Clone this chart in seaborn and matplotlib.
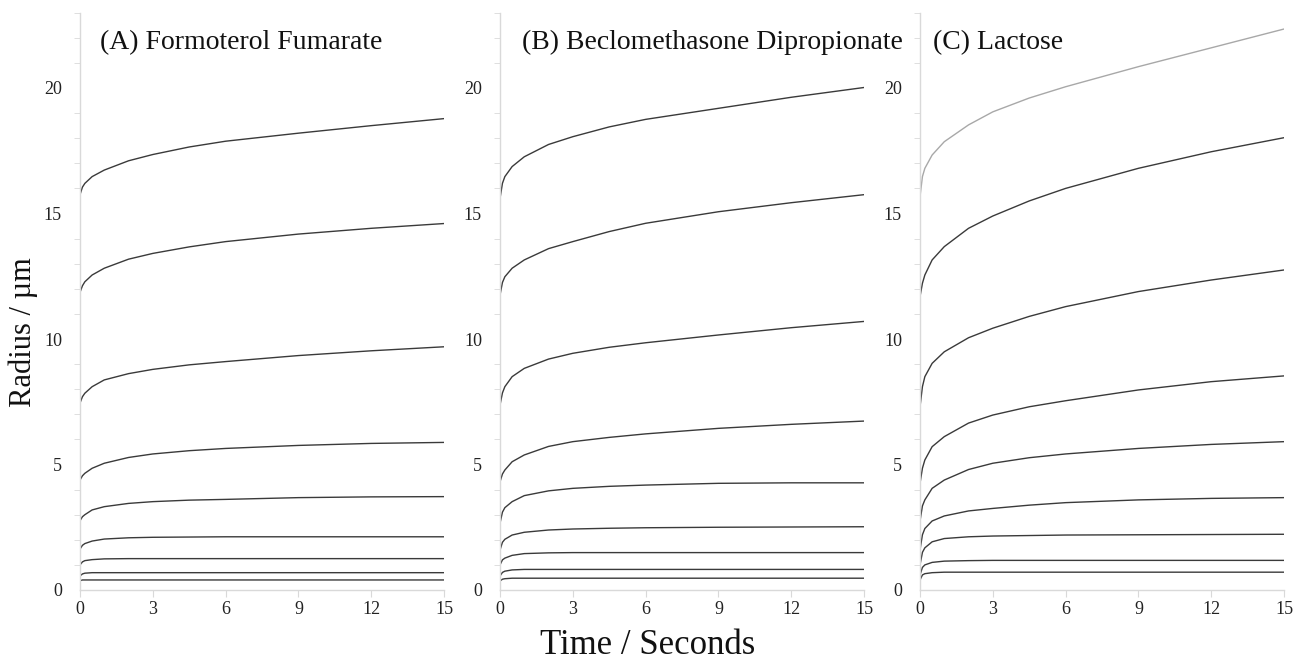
import numpy as np
import pandas as pd
import matplotlib
matplotlib.use("Agg")
import matplotlib.pyplot as plt
from matplotlib.ticker import MultipleLocator
import seaborn as sns

# ---- data -------------------------------------------------------------
time_s = [0, 0.1, 0.2, 0.5, 1, 2, 3, 4.5, 6, 9, 12, 15]

panel_titles = ["(A) Formoterol Fumarate",
                "(B) Beclomethasone Dipropionate",
                "(C) Lactose"]

formoterol = [
    [15.75, 16.05, 16.2, 16.47, 16.73, 17.1, 17.35, 17.65, 17.88, 18.2, 18.5, 18.78],
    [11.86, 12.12, 12.28, 12.55, 12.82, 13.18, 13.41, 13.67, 13.88, 14.18, 14.41, 14.6],
    [7.45, 7.7, 7.84, 8.1, 8.37, 8.62, 8.79, 8.97, 9.1, 9.34, 9.53, 9.69],
    [4.38, 4.55, 4.65, 4.85, 5.05, 5.28, 5.42, 5.55, 5.64, 5.76, 5.84, 5.88],
    [2.76, 2.92, 3.0, 3.19, 3.32, 3.45, 3.52, 3.58, 3.61, 3.68, 3.71, 3.72],
    [1.63, 1.78, 1.85, 1.95, 2.03, 2.08, 2.1, 2.11, 2.12, 2.12, 2.12, 2.12],
    [1.0, 1.12, 1.17, 1.21, 1.24, 1.25, 1.25, 1.25, 1.25, 1.25, 1.25, 1.25],
    [0.56, 0.64, 0.67, 0.69, 0.69, 0.69, 0.69, 0.69, 0.69, 0.69, 0.69, 0.69],
    [0.37, 0.40, 0.40, 0.40, 0.40, 0.40, 0.40, 0.40, 0.40, 0.40, 0.40, 0.40],
]

beclomethasone = [
    [15.6, 16.2, 16.47, 16.87, 17.26, 17.75, 18.06, 18.45, 18.75, 19.19, 19.63, 20.02],
    [11.75, 12.25, 12.48, 12.82, 13.15, 13.6, 13.88, 14.28, 14.61, 15.07, 15.43, 15.75],
    [7.37, 7.85, 8.1, 8.5, 8.83, 9.2, 9.43, 9.67, 9.85, 10.16, 10.45, 10.7],
    [4.31, 4.62, 4.78, 5.11, 5.38, 5.72, 5.91, 6.08, 6.22, 6.44, 6.6, 6.73],
    [2.66, 3.1, 3.28, 3.52, 3.76, 3.95, 4.05, 4.13, 4.18, 4.25, 4.27, 4.27],
    [1.59, 1.9, 2.02, 2.19, 2.3, 2.39, 2.43, 2.46, 2.48, 2.5, 2.51, 2.52],
    [1.0, 1.2, 1.27, 1.38, 1.45, 1.48, 1.49, 1.49, 1.49, 1.49, 1.49, 1.49],
    [0.56, 0.7, 0.75, 0.8, 0.82, 0.82, 0.82, 0.82, 0.82, 0.82, 0.82, 0.82],
    [0.36, 0.43, 0.45, 0.47, 0.47, 0.47, 0.47, 0.47, 0.47, 0.47, 0.47, 0.47],
]

lactose = [
    [15.67, 16.47, 16.8, 17.33, 17.86, 18.53, 19.05, 19.6, 20.05, 20.85, 21.6, 22.35],
    [11.69, 12.22, 12.55, 13.15, 13.68, 14.41, 14.9, 15.5, 16.0, 16.8, 17.46, 18.02],
    [7.3, 8.1, 8.5, 9.03, 9.49, 10.05, 10.43, 10.9, 11.29, 11.89, 12.35, 12.75],
    [4.25, 4.85, 5.18, 5.71, 6.11, 6.65, 6.97, 7.3, 7.54, 7.97, 8.3, 8.53],
    [2.75, 3.35, 3.59, 4.05, 4.38, 4.8, 5.05, 5.27, 5.42, 5.64, 5.8, 5.91],
    [1.6, 2.2, 2.45, 2.75, 2.95, 3.15, 3.25, 3.38, 3.48, 3.59, 3.65, 3.68],
    [1.0, 1.5, 1.68, 1.92, 2.05, 2.12, 2.15, 2.17, 2.19, 2.2, 2.21, 2.22],
    [0.6, 0.9, 1.0, 1.1, 1.15, 1.17, 1.18, 1.18, 1.18, 1.18, 1.18, 1.18],
    [0.4, 0.6, 0.65, 0.69, 0.71, 0.71, 0.71, 0.71, 0.71, 0.71, 0.71, 0.71],
]

x_ticks = [0, 3, 6, 9, 12, 15]
y_ticks = [0, 5, 10, 15, 20]

# ---- style ------------------------------------------------------------
sns.set_style("white")
plt.rcParams['font.family'] = ['Liberation Serif', 'DejaVu Serif']

fig = plt.figure(figsize=(12.95, 6.64), dpi=100)
lefts = [80, 500, 920]
W, H = 1295, 664
axes = []
for lx in lefts:
    ax = fig.add_axes([lx / W, (H - 590) / H, 364 / W, 577.3 / H])
    axes.append(ax)

all_sets = [formoterol, beclomethasone, lactose]
title_x = [0.055, 0.06, 0.036]
axis_grey = "#d9d9d9"

for pi, (ax, curves) in enumerate(zip(axes, all_sets)):
    rows = []
    for ci, vals in enumerate(curves):
        for t, v in zip(time_s, vals):
            rows.append({"t": t, "r": v, "curve": ci})
    df = pd.DataFrame(rows)
    palette = {ci: "#3a3a3a" for ci in range(len(curves))}
    if pi == 2:
        palette[0] = "#a8a8a8"
    sns.lineplot(data=df, x="t", y="r", hue="curve", palette=palette,
                 estimator=None, linewidth=1.0, legend=False, ax=ax)
    ax.set_xlim(0, 15)
    ax.set_ylim(0, 23)
    ax.set_xticks(x_ticks)
    ax.set_yticks(y_ticks)
    ax.yaxis.set_minor_locator(MultipleLocator(1))
    ax.set_xlabel("")
    ax.set_ylabel("")
    for s in ["top", "right"]:
        ax.spines[s].set_visible(False)
    for s in ["left", "bottom"]:
        ax.spines[s].set_color(axis_grey)
        ax.spines[s].set_linewidth(1.0)
    ax.tick_params(axis="both", which="both", direction="out",
                   color=axis_grey, labelsize=13, labelcolor="#222222")
    ax.tick_params(axis="y", which="major", length=4, pad=9)
    ax.tick_params(axis="y", which="minor", length=4, left=True)
    ax.tick_params(axis="x", which="major", length=5, pad=3, bottom=True)
    ax.text(title_x[pi], 0.949, panel_titles[pi], transform=ax.transAxes,
            fontsize=20, ha="left", va="center", color="#111111")

fig.text(0.018, 0.5, "Radius / µm", rotation=90, fontsize=22,
         ha="center", va="center", color="#111111")
fig.text(0.5, 0.028, "Time / Seconds", fontsize=25,
         ha="center", va="center", color="#111111")

fig.savefig("out.png", dpi=100)
